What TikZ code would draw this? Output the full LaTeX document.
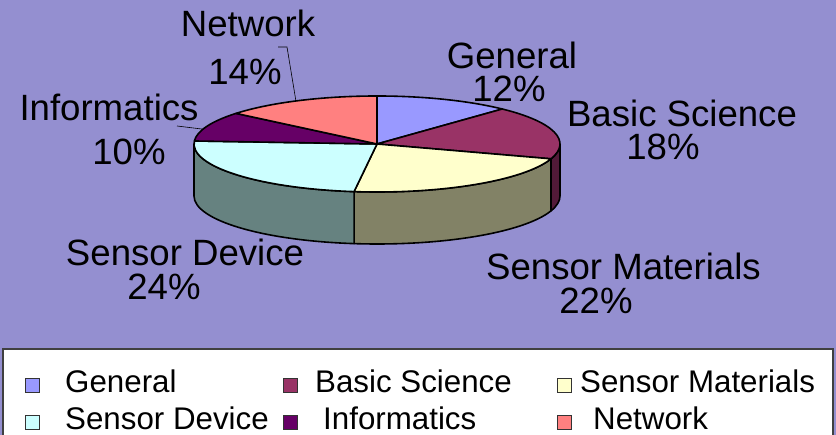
\documentclass[tikz,border=0pt]{standalone}
\usepackage{fontspec}
\setmainfont{Liberation Sans}
\usepackage{xcolor}
\usetikzlibrary{positioning}

\definecolor{chartbg}{RGB}{148,143,208}
\definecolor{general}{HTML}{9999FF}
\definecolor{basic}{HTML}{993366}
\definecolor{materials}{HTML}{FFFFCC}
\definecolor{device}{HTML}{CCFFFF}
\definecolor{informatics}{HTML}{660066}
\definecolor{network}{HTML}{FF8080}
\definecolor{basicside}{HTML}{521A38}
\definecolor{materialsside}{HTML}{828266}
\definecolor{deviceside}{HTML}{668280}

\tikzset{%
  slice/.style={draw=black, line width=1.6pt, line join=round},
  label/.style={font=\fontsize{36.6}{36}\selectfont, anchor=base, inner sep=0pt},
  leader/.style={draw=black, line width=0.6pt},
  keybox/.style={draw=black!80, line width=0.8pt, minimum size=14pt, inner sep=0pt},
  keytext/.style={font=\fontsize{31.3}{31}\selectfont, anchor=base west, inner sep=0pt}
}

\begin{document}
\begin{tikzpicture}[x=1pt, y=1pt]

  \useasboundingbox (0,0) rectangle (836,435);
  \fill[chartbg] (0,0) rectangle (836,435);

  % pie, origin at the middle of the top face
  \begin{scope}[shift={(377,291)}]
    % front rim
    \foreach \a/\b/\col in {0/-18/basicside, -18/-97.2/materialsside, -97.2/-180/deviceside}
      \filldraw[slice, fill=\col] (\a:183 and 48)
        arc[start angle=\a, end angle=\b, x radius=183, y radius=48] -- ++(0,-52)
        arc[start angle=\b, end angle=\a, x radius=183, y radius=48] -- cycle;
    % top face
    \foreach \a/\b/\col in {90/46.8/general, 46.8/-18/basic, -18/-97.2/materials,
                            -97.2/-183.6/device, -183.6/-219.6/informatics, -219.6/-270/network}
      \filldraw[slice, fill=\col] (0,0) -- (\a:183 and 48)
        arc[start angle=\a, end angle=\b, x radius=183, y radius=48] -- cycle;
    \coordinate (netpt) at (116.3:183 and 48);
    \coordinate (infopt) at (162:183 and 48);
  \end{scope}

  % slice labels
  \node[label] (generalname) at (512,366) {General};
  \node[label] (generalpct) at (509,333) {12\%};
  \node[label] (basicname) at (682,308) {Basic Science};
  \node[label] (basicpct) at (663,275) {18\%};
  \node[label] (materialsname) at (623.5,155) {Sensor Materials};
  \node[label] (materialspct) at (596,121) {22\%};
  \node[label] (devicename) at (185,169) {Sensor Device};
  \node[label] (devicepct) at (164,135) {24\%};
  \node[label] (infoname) at (109,314) {Informatics};
  \node[label] (infopct) at (129,270) {10\%};
  \node[label] (netname) at (248,398) {Network};
  \node[label] (netpct) at (245,350) {14\%};

  % leader lines
  \coordinate (netlead) at (278,388);
  \coordinate (infolead) at (177,309);
  \draw[leader] (netlead) -- ++(9,0) -- (netpt);
  \draw[leader] (infolead) -- (infopt);

  % legend
  \draw[draw=black!75, fill=white, line width=1.2pt] (3,-10) rectangle (833,86);
  \foreach \x/\y/\col/\tx/\txt in {32/49.5/general/65/General,
                                   290.5/49.5/basic/315/Basic Science,
                                   564/49.5/materials/580/Sensor Materials,
                                   32/12.5/device/65/Sensor Device,
                                   290.5/12.5/informatics/323/Informatics,
                                   564/12.5/network/593/Network}
  {
    \node[keybox, fill=\col] (key-\col) at (\x,\y) {};
    \node[keytext] (keytxt-\col) at (\tx,\y-7.5) {\txt};
  }

\end{tikzpicture}
\end{document}
